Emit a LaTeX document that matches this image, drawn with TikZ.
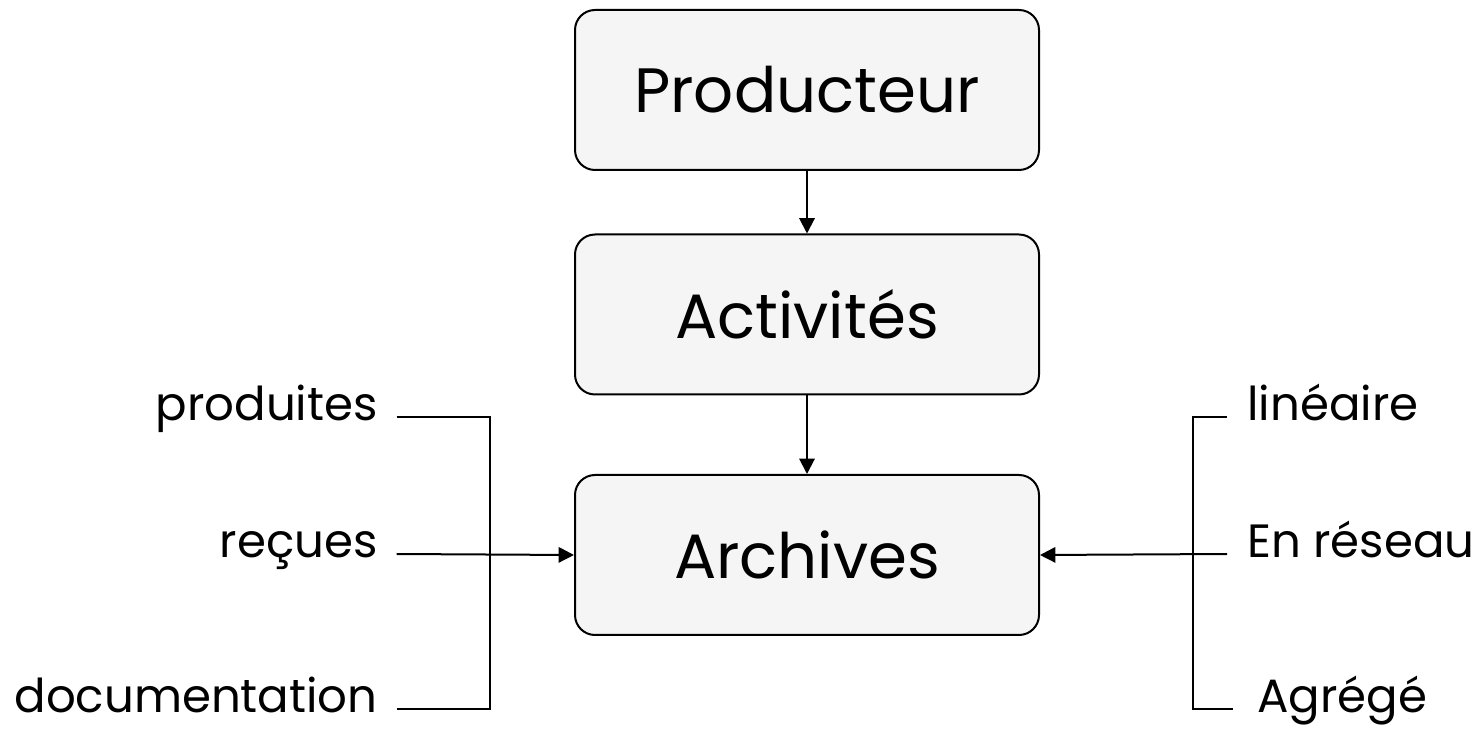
\documentclass[tikz,border=0pt]{standalone}
\usepackage{fontspec}
\setmainfont{Poppins}
\usetikzlibrary{arrows.meta}
\definecolor{boxgray}{HTML}{F5F5F5}
\begin{document}
\begin{tikzpicture}[x=0.75pt,y=-0.75pt,
  box/.style={draw=black, line width=1.5pt, fill=boxgray, rounded corners=15pt,
    minimum width=348pt, minimum height=120pt, inner sep=0pt,
    font=\fontsize{47}{53}\selectfont},
  lbl/.style={inner sep=0pt, font=\fontsize{35}{40}\selectfont},
  conn/.style={line width=1.5pt},
  arr/.style={conn, -{Triangle[length=11.5pt,width=11.5pt]}}]
\useasboundingbox (0,0) rectangle (1475,737);
\node[box] (prod) at (807,90) {Producteur};
\node[box] (act) at (807,314.5) {Activités};
\node[box] (arch) at (807,555) {Archives};
\draw[arr] (prod) -- (act);
\draw[arr] (act) -- (arch);
% left labels
\node[lbl, anchor=mid east] (produites) at (378,417) {produites};
\node[lbl, anchor=mid east] (recues) at (378,554) {reçues};
\node[lbl, anchor=mid east] (docu) at (378,709) {documentation};
\coordinate (lt) at (490,417);
\coordinate (lb) at (490,709);
\draw[conn] ([xshift=14pt]produites.mid east) -- (lt) -- (lb) -- ([xshift=14pt]docu.mid east);
\draw[arr] ([xshift=14pt]recues.mid east) -- (arch.west);
% right labels
\node[lbl, anchor=mid west] (lin) at (1247,417) {linéaire};
\node[lbl, anchor=mid west] (res) at (1247,554) {En réseau};
\node[lbl, anchor=mid west] (agr) at (1257,709) {Agrégé};
\coordinate (rt) at (1193,417);
\coordinate (rb) at (1193,709);
\draw[conn] ([xshift=-15pt]lin.mid west) -- (rt) -- (rb) -- ([xshift=-18pt]agr.mid west);
\draw[arr] ([xshift=-15pt]res.mid west) -- (arch.east);
\end{tikzpicture}
\end{document}
